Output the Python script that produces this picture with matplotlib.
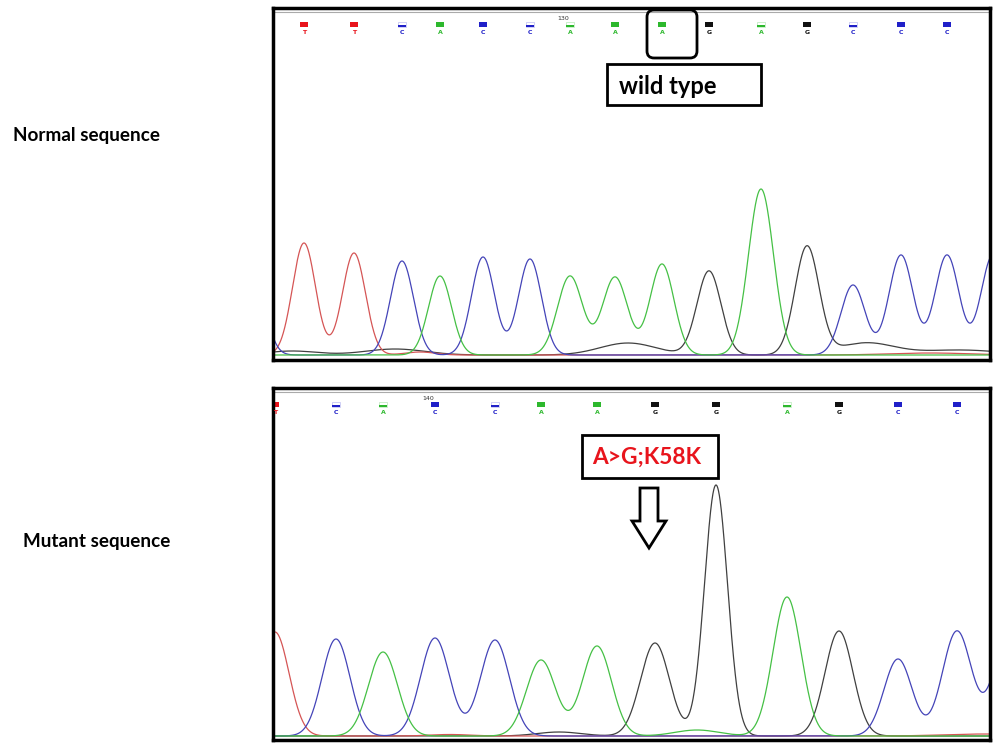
import numpy as np
import matplotlib.pyplot as plt
from matplotlib.patches import Rectangle, FancyBboxPatch, Polygon

# peak calls (x in pixels, height above baseline in pixels)
top_bases = ['C', 'T', 'T', 'C', 'A', 'C', 'C', 'A', 'A', 'A', 'G', 'A', 'G', 'C', 'C', 'C', 'C']
top_pos = [255, 304, 354, 402, 440, 483, 530, 570, 615, 662, 709, 761, 807, 853, 901, 947, 993]
top_hgt = [70, 112, 102, 94, 79, 98, 96, 79, 78, 91, 84, 166, 108, 70, 100, 100, 100]
top_wid = [11, 11.5, 11.5, 11.5, 11.5, 11.5, 11.5, 12.5, 12.5, 12, 12, 12.5, 12, 12, 12, 12, 12]
top_qv = [1, 1, 1, 0, 1, 1, 0, 0, 1, 1, 1, 0, 1, 0, 1, 1, 1]

bot_bases = ['T', 'C', 'A', 'C', 'C', 'A', 'A', 'G', 'G', 'A', 'G', 'C', 'C', 'C']
bot_pos = [275, 336, 383, 435, 495, 541, 597, 655, 716, 787, 839, 898, 957, 1008]
bot_hgt = [104, 97, 84, 98, 96, 76, 90, 93, 251, 139, 105, 77, 105, 100]
bot_wid = [14, 14, 14.5, 14.5, 14.5, 14.5, 14.5, 14.5, 11.5, 14, 14, 14, 14.5, 14.5]
bot_qv = [1, 0, 0, 1, 0, 1, 1, 1, 1, 0, 1, 1, 1, 1]

# low background humps
top_bg_base = ['G', 'G', 'G', 'G', 'G', 'T', 'T']
top_bg_pos = [292, 395, 628, 866, 960, 420, 930]
top_bg_hgt = [4, 6, 12, 12, 5, 3, 2]
top_bg_wid = [25, 30, 28, 28, 40, 15, 40]

bot_bg_base = ['G', 'A', 'T', 'T']
bot_bg_pos = [559, 697, 985, 450]
bot_bg_hgt = [4, 6, 2, 1.5]
bot_bg_wid = [22, 22, 40, 20]

trace_col = {'T': '#d55555', 'C': '#4444b8', 'A': '#45c045', 'G': '#404040'}
call_col = {'T': '#e8141c', 'C': '#2020c8', 'A': '#2db82d', 'G': '#111111'}
light_col = {'T': '#f6b0b0', 'C': '#c8c8f4', 'A': '#c4ecc4', 'G': '#cccccc'}

fig = plt.figure(figsize=(10, 7.5), dpi=100)


def panel(top_px, bottom_px, baseline_px, bases, pos, hgt, wid, qv,
          bg_base, bg_pos, bg_hgt, bg_wid, pos_label, pos_label_x):
    ax = fig.add_axes([273 / 1000, 1 - bottom_px / 750, 717 / 1000, (bottom_px - top_px) / 750])
    ax.set_xlim(273, 990)
    ymax = baseline_px - top_px
    ax.set_ylim(baseline_px - bottom_px, ymax)
    xs = np.linspace(200, 1060, 4000)
    for b in ['G', 'T', 'C', 'A']:
        y = np.zeros_like(xs)
        for p, h, w, bb in zip(pos, hgt, wid, bases):
            if bb == b:
                y += h * np.exp(-0.5 * ((xs - p) / w) ** 2)
        for p, h, w, bb in zip(bg_pos, bg_hgt, bg_wid, bg_base):
            if bb == b:
                y += h * np.exp(-0.5 * ((xs - p) / w) ** 2)
        ax.plot(xs, y, color=trace_col[b], lw=0.9)

    # base call markers
    sq_y = ymax - 16.5
    for p, bb, q in zip(pos, bases, qv):
        if p < 270 or p > 985:
            continue
        if q:
            ax.add_patch(Rectangle((p - 4, sq_y - 2.5), 8, 5, color=call_col[bb], lw=0))
        else:
            ax.add_patch(Rectangle((p - 4, sq_y - 2.5), 8, 5, facecolor='white',
                                   edgecolor=light_col[bb], lw=0.6))
            ax.add_patch(Rectangle((p - 4, sq_y - 2.5), 8, 2.5, color=call_col[bb], lw=0))
        ax.text(p, sq_y - 8.5, bb, color=call_col[bb], fontsize=4.5, ha='center', va='center',
                fontweight='bold', clip_on=True)
    ax.text(pos_label_x, ymax - 10, pos_label, fontsize=4.5, ha='center',
            va='center', color='#333333')
    ax.axhline(ymax - 4, color='#aaaaaa', lw=0.8)

    ax.set_xticks([])
    ax.set_yticks([])
    for s in ax.spines.values():
        s.set_linewidth(2.5)
        s.set_color('black')
    return ax


panel(8, 360, 355, top_bases, top_pos, top_hgt, top_wid, top_qv,
      top_bg_base, top_bg_pos, top_bg_hgt, top_bg_wid, '130', 563)
panel(388, 740, 736, bot_bases, bot_pos, bot_hgt, bot_wid, bot_qv,
      bot_bg_base, bot_bg_pos, bot_bg_hgt, bot_bg_wid, '140', 428)

# overlay in pixel coordinates for labels and callouts
ov = fig.add_axes([0, 0, 1, 1])
ov.set_xlim(0, 1000)
ov.set_ylim(750, 0)
ov.axis('off')

ov.text(13, 135, 'Normal sequence', fontsize=13.6, fontweight='bold', family='Lato',
        ha='left', va='center')
ov.text(23, 542, 'Mutant sequence', fontsize=13.6, fontweight='bold', family='Lato',
        ha='left', va='center')

ov.add_patch(FancyBboxPatch((647, 10), 50, 48, boxstyle='round,pad=0,rounding_size=7',
                            fill=False, lw=2, ec='black'))
ov.add_patch(Rectangle((607, 64), 154, 41, fill=False, lw=2, ec='black'))
ov.text(619, 87, 'wild type', fontsize=17, fontweight='bold', family='Lato',
        ha='left', va='center')

ov.add_patch(Rectangle((582, 435), 136, 43, fill=False, lw=2, ec='black'))
ov.text(647, 457, 'A>G;K58K', fontsize=16.3, fontweight='bold', family='Lato',
        ha='center', va='center', color='#e8141c')
ov.add_patch(Polygon([(640, 488), (658, 488), (658, 521), (666, 521), (649, 548),
                      (632, 521), (640, 521)], closed=True, facecolor='white',
                     edgecolor='black', lw=2))

fig.savefig('out.png', dpi=100)
